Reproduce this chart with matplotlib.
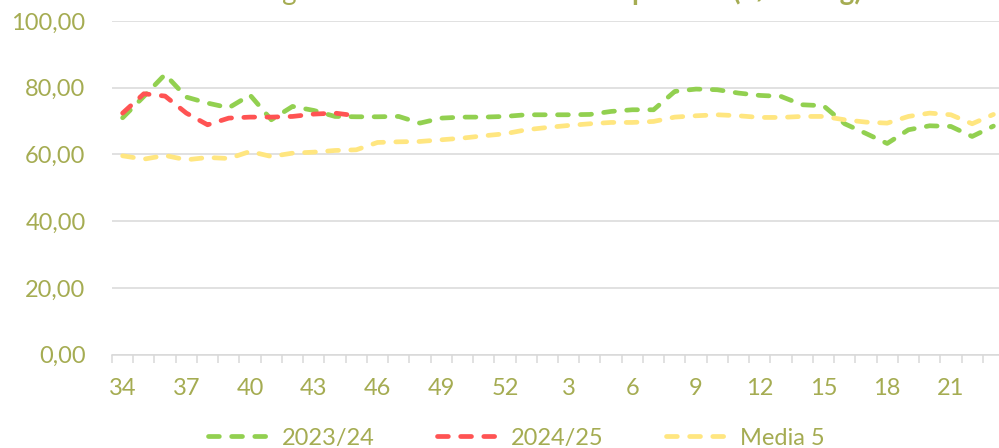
import numpy as np
import matplotlib
matplotlib.use("Agg")
import matplotlib.pyplot as plt

# week numbers: 34..52 of one year then 1..23 of the next
weeks = list(range(34, 53)) + list(range(1, 24))

# 2023/24 campaign
s2023 = [71.0, 77.4, 84.0, 77.2, 75.4, 74.0, 77.8, 70.4, 74.4, 73.2,
         71.4, 71.3, 71.3, 71.4, 69.4, 70.9, 71.2, 71.2, 71.4, 71.9,
         71.9, 71.9, 72.0, 72.9, 73.4, 73.4, 78.9, 79.6, 79.4, 78.4,
         77.7, 77.4, 74.9, 74.6, 69.2, 66.3, 63.3, 67.4, 68.6, 68.4,
         65.4, 68.5]

# 2024/25 campaign (so far)
s2024 = [72.4, 78.2, 77.5, 72.4, 68.9, 70.9, 71.2, 71.2, 71.4, 72.1,
         72.4, 71.6]

# five-year average
media5 = [59.6, 58.6, 59.7, 58.4, 59.1, 58.8, 60.9, 59.4, 60.4, 60.7,
          61.2, 61.4, 63.6, 63.8, 63.9, 64.4, 64.9, 65.6, 66.2, 67.4,
          68.1, 68.7, 69.2, 69.6, 69.6, 69.9, 71.2, 71.6, 71.9, 71.6,
          71.1, 71.1, 71.4, 71.4, 70.4, 69.7, 69.4, 71.4, 72.4, 71.9,
          69.2, 72.0]

labels = ["2023/24", "2024/25", "Media 5"]
yticks = [0, 20, 40, 60, 80, 100]
ytick_labels = ["0,00", "20,00", "40,00", "60,00", "80,00", "100,00"]

txt_color = "#A5AC52"
grid_color = "#D9D9D9"

plt.rcParams["font.family"] = ["Lato", "DejaVu Sans"]

fig = plt.figure(figsize=(9.99, 4.48), dpi=100)
ax = fig.add_axes([112 / 999, 1 - 354.7 / 448, (1004 - 112) / 999, (354.7 - 21) / 448])

x = np.arange(len(weeks))
style = dict(linewidth=3.4, dash_capstyle="round", solid_capstyle="round", dashes=(2.3, 2.6))
ax.plot(x, s2023, color="#92D050", label=labels[0], **style)
ax.plot(x[:len(s2024)], s2024, color="#FF5353", label=labels[1], **style)
ax.plot(x, media5, color="#FFE680", label=labels[2], **style)

ax.set_xlim(-0.5, len(weeks) - 0.5)
ax.set_ylim(0, 100)

ax.set_yticks(yticks)
ax.set_yticklabels(ytick_labels)
ax.tick_params(axis="y", length=0, pad=19, labelsize=17, labelcolor=txt_color)
ax.yaxis.grid(True, color=grid_color, linewidth=1.1)
ax.set_axisbelow(True)

major = list(range(0, len(weeks), 3))
ax.set_xticks(major)
ax.set_xticklabels([str(weeks[i]) for i in major])
ax.set_xticks(np.arange(-0.5, len(weeks), 1.0), minor=True)
ax.tick_params(axis="x", which="major", length=0, pad=17, labelsize=17, labelcolor=txt_color)
ax.tick_params(axis="x", which="minor", length=5.5, width=1.1, color=grid_color)

for side in ["top", "right", "left"]:
    ax.spines[side].set_visible(False)
ax.spines["bottom"].set_color(grid_color)
ax.spines["bottom"].set_linewidth(1.1)

# title, mostly cut off at the top edge like in the source picture
fig.text(622 / 999, 1.0, "Precio medio ganado Cerdo Cebo Normal", ha="right", va="baseline",
         fontsize=20, color=txt_color)
fig.text(632 / 999, 1.0, "porcino (€/100 kg)", ha="left", va="baseline",
         fontsize=20, color=txt_color, fontweight="bold")

leg = fig.legend(loc="center", bbox_to_anchor=(0.517, 0.022), ncol=3, frameon=False,
                 fontsize=17, handlelength=2.58, handletextpad=0.55, columnspacing=2.65)
for t in leg.get_texts():
    t.set_color(txt_color)

fig.savefig("out.png", dpi=100)
